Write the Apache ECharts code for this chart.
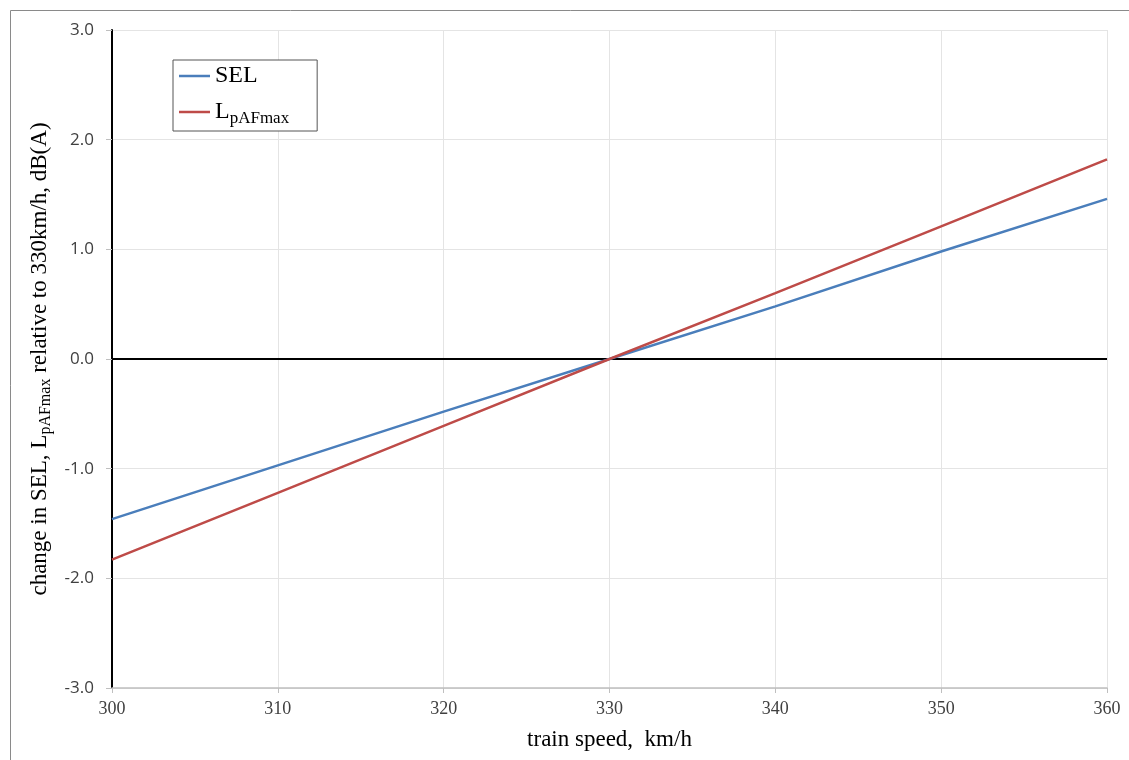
<!DOCTYPE html>
<html>
<head>
<meta charset="utf-8">
<script src="https://cdn.jsdelivr.net/npm/echarts@6/dist/echarts.min.js"></script>
<style>
  html, body { margin: 0; padding: 0; background: #fff; }
  #chart { width: 1129px; height: 760px; }
</style>
</head>
<body>
<div id="chart"></div>
<script>
// Train speed (km/h) and level change relative to 330 km/h, dB(A)
const speeds = [300, 310, 320, 330, 340, 350, 360];
const selChange = [-1.46, -0.97, -0.48, 0.0, 0.48, 0.98, 1.46];
const lmaxChange = [-1.83, -1.22, -0.61, 0.0, 0.60, 1.21, 1.82];
const yTicks = [-3, -2, -1, 0, 1, 2, 3];
const seriesNames = ['SEL', 'LpAFmax'];

const serif = '"Liberation Serif", "Times New Roman", serif';
const sans = '"Open Sans", "Noto Sans", sans-serif';

const chart = echarts.init(document.getElementById('chart'), null, { renderer: 'canvas' });

function pairs(vals) {
  return speeds.map((s, i) => [s, vals[i]]);
}

chart.setOption({
  backgroundColor: '#ffffff',
  animation: false,
  graphic: [{
    type: 'rect',
    shape: { x: 10.5, y: 10.5, width: 1300, height: 900 },
    style: { fill: 'none', stroke: '#8a8a8a', lineWidth: 1 },
    silent: true,
    z: -10
  }],
  grid: { left: 112, right: 22, top: 30, bottom: 72, containLabel: false, outerBoundsMode: 'none' },
  legend: {
    orient: 'vertical',
    left: 173,
    top: 60,
    data: seriesNames,
    icon: 'rect',
    itemWidth: 31,
    itemHeight: 2.5,
    itemGap: 9,
    itemTextGap: 0,
    padding: [4, 28, 4, 6],
    borderColor: '#555',
    borderWidth: 1,
    backgroundColor: '#fff',
    formatter: function (name) {
      return name === 'LpAFmax' ? '{m|L}{s|pAFmax}' : '{m|SEL}';
    },
    textStyle: {
      rich: {
        m: { fontFamily: serif, fontSize: 24, color: '#000', lineHeight: 30 },
        s: { fontFamily: serif, fontSize: 17, color: '#000', verticalAlign: 'bottom', lineHeight: 20, padding: [13, 0, 0, 0] }
      }
    }
  },
  xAxis: {
    type: 'value',
    min: 300,
    max: 360,
    interval: 10,
    name: 'train speed,  km/h',
    nameLocation: 'middle',
    nameGap: 40,
    nameTextStyle: { fontFamily: serif, fontSize: 23, color: '#000' },
    axisLine: { show: true, onZero: false, lineStyle: { color: '#bfbfbf', width: 1.5 } },
    axisTick: { show: true, length: 5, lineStyle: { color: '#bfbfbf' } },
    axisLabel: { margin: 12, fontFamily: serif, fontSize: 18, color: '#404040' },
    splitLine: { show: true, lineStyle: { color: '#e4e4e4', width: 1 } }
  },
  yAxis: {
    type: 'value',
    min: -3,
    max: 3,
    interval: 1,
    name: '{t|change in SEL, L}{s|pAFmax}{t| relative to 330km/h, dB(A)}',
    nameLocation: 'middle',
    nameRotate: 90,
    nameGap: 52,
    nameTextStyle: {
      rich: {
        t: { fontFamily: serif, fontSize: 23, color: '#000', lineHeight: 28 },
        s: { fontFamily: serif, fontSize: 16, color: '#000', verticalAlign: 'bottom', lineHeight: 20, padding: [10, 0, 0, 0] }
      }
    },
    axisLine: { show: true, lineStyle: { color: '#000', width: 2 } },
    axisTick: { show: true, length: 6, lineStyle: { color: '#bfbfbf' } },
    axisLabel: {
      margin: 18,
      fontFamily: sans,
      fontSize: 17,
      color: '#404040',
      formatter: v => v.toFixed(1)
    },
    splitLine: { show: true, lineStyle: { color: '#e4e4e4', width: 1 } }
  },
  series: [
    {
      name: 'SEL',
      type: 'line',
      data: pairs(selChange),
      showSymbol: false,
      symbol: 'none',
      lineStyle: { color: '#4a7ebb', width: 2.5 },
      itemStyle: { color: '#4a7ebb' },
      z: 3,
      markLine: {
        silent: true,
        symbol: 'none',
        label: { show: false },
        lineStyle: { color: '#000', width: 2, type: 'solid' },
        data: [{ yAxis: yTicks[3] }],
        z: 2
      }
    },
    {
      name: 'LpAFmax',
      type: 'line',
      data: pairs(lmaxChange),
      showSymbol: false,
      symbol: 'none',
      lineStyle: { color: '#be4b48', width: 2.5 },
      itemStyle: { color: '#be4b48' },
      z: 4
    }
  ]
});
</script>
</body>
</html>
